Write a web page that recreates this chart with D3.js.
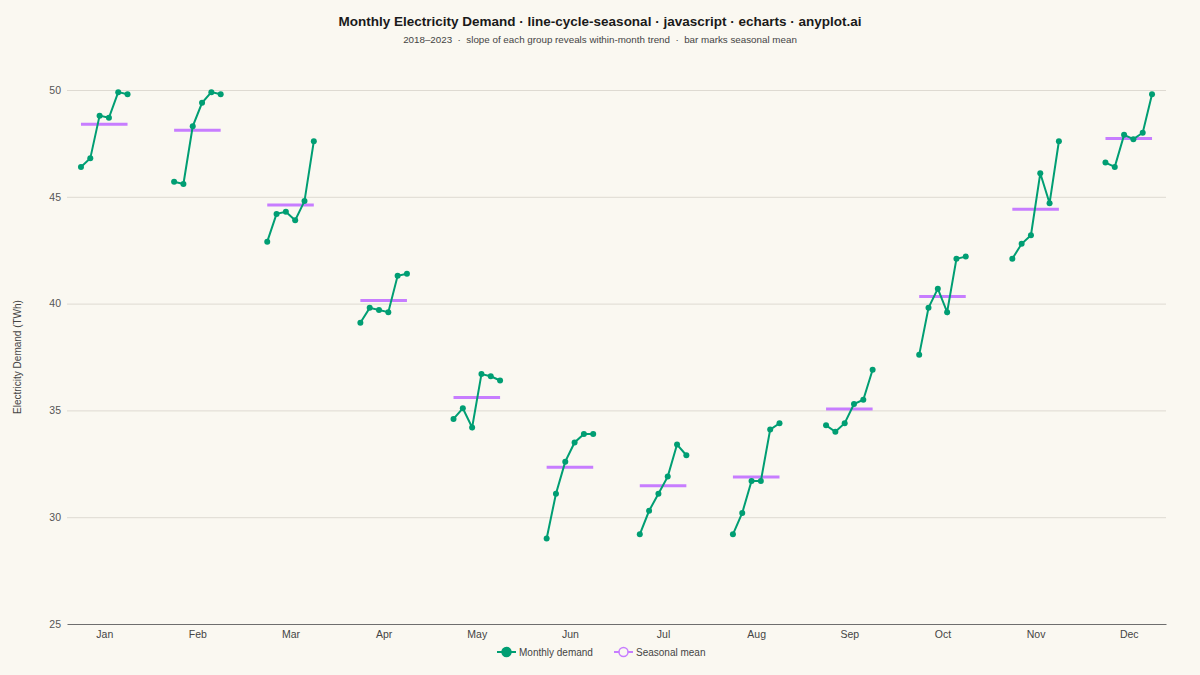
<!DOCTYPE html>
<html>
<head>
<meta charset="utf-8">
<script src="https://cdn.jsdelivr.net/npm/d3@7"></script>
<style>
  html, body { margin: 0; padding: 0; background: #FAF8F1; }
  svg { display: block; font-family: "Liberation Sans", Arial, sans-serif; }
</style>
</head>
<body>
<svg id="chart"></svg>
<script>
var width = 1200;
var height = 675;

var months = ['Jan', 'Feb', 'Mar', 'Apr', 'May', 'Jun', 'Jul', 'Aug', 'Sep', 'Oct', 'Nov', 'Dec'];
var years = [2018, 2019, 2020, 2021, 2022, 2023];
var yTicks = [25, 30, 35, 40, 45, 50];

// demand per month, one value per year (2018..2023), TWh
var janDemand = [46.4, 46.8, 48.8, 48.7, 49.9, 49.8];
var febDemand = [45.7, 45.6, 48.3, 49.4, 49.9, 49.8];
var marDemand = [42.9, 44.2, 44.3, 43.9, 44.8, 47.6];
var aprDemand = [39.1, 39.8, 39.7, 39.6, 41.3, 41.4];
var mayDemand = [34.6, 35.1, 34.2, 36.7, 36.6, 36.4];
var junDemand = [29.0, 31.1, 32.6, 33.5, 33.9, 33.9];
var julDemand = [29.2, 30.3, 31.1, 31.9, 33.4, 32.9];
var augDemand = [29.2, 30.2, 31.7, 31.7, 34.1, 34.4];
var sepDemand = [34.3, 34.0, 34.4, 35.3, 35.5, 36.9];
var octDemand = [37.6, 39.8, 40.7, 39.6, 42.1, 42.2];
var novDemand = [42.1, 42.8, 43.2, 46.1, 44.7, 47.6];
var decDemand = [46.6, 46.4, 47.9, 47.7, 48.0, 49.8];

var demand = [janDemand, febDemand, marDemand, aprDemand, mayDemand, junDemand,
  julDemand, augDemand, sepDemand, octDemand, novDemand, decDemand];

var green = '#009E73';
var purple = '#C77DFF';

var svg = d3.select('#chart')
  .attr('width', width)
  .attr('height', height);

svg.append('rect')
  .attr('width', width)
  .attr('height', height)
  .attr('fill', '#FAF8F1');

var plotLeft = 67, plotRight = 1166, plotTop = 90, plotBottom = 624;

// x: month index with a small spread for each year inside the group
var xScale = d3.scaleLinear()
  .domain([-0.4, 11.4])
  .range([plotLeft, plotRight]);

var yScale = d3.scaleLinear()
  .domain([25, 50])
  .range([plotBottom, plotTop]);

// year offset within a month group
var yearOffset = d3.scaleLinear()
  .domain([0, years.length - 1])
  .range([-0.25, 0.25]);

// title
svg.append('text')
  .attr('x', width / 2)
  .attr('y', 26)
  .attr('text-anchor', 'middle')
  .attr('font-size', 13.5)
  .attr('font-weight', 'bold')
  .attr('fill', '#1a1a1a')
  .text('Monthly Electricity Demand \u00b7 line-cycle-seasonal \u00b7 javascript \u00b7 echarts \u00b7 anyplot.ai');

svg.append('text')
  .attr('x', width / 2)
  .attr('y', 43)
  .attr('text-anchor', 'middle')
  .attr('font-size', 9.8)
  .attr('fill', '#444')
  .attr('xml:space', 'preserve')
  .text('2018\u20132023  \u00b7  slope of each group reveals within-month trend  \u00b7  bar marks seasonal mean');

// grid + y axis
var yAxis = svg.append('g')
  .attr('transform', 'translate(' + plotLeft + ',0)')
  .call(d3.axisLeft(yScale)
    .tickValues(yTicks)
    .tickSize(-(plotRight - plotLeft))
    .tickPadding(6));
yAxis.select('.domain').remove();
yAxis.selectAll('.tick line')
  .attr('stroke', '#DEDAD2')
  .attr('stroke-width', 1);
yAxis.selectAll('.tick text')
  .attr('font-size', 10.5)
  .attr('fill', '#555')
  .attr('font-family', '"Liberation Sans", Arial, sans-serif');
yAxis.selectAll('.tick').filter(function(d) { return d === 25; })
  .select('line').remove();

svg.append('text')
  .attr('transform', 'translate(21,' + ((plotTop + plotBottom) / 2) + ') rotate(-90)')
  .attr('text-anchor', 'middle')
  .attr('font-size', 10)
  .attr('fill', '#444')
  .text('Electricity Demand (TWh)');

// x axis
var xAxis = svg.append('g')
  .attr('transform', 'translate(0,' + plotBottom + ')')
  .call(d3.axisBottom(xScale)
    .tickValues(d3.range(months.length))
    .tickFormat(function(i) { return months[i]; })
    .tickSize(0)
    .tickPadding(7));
xAxis.select('.domain')
  .attr('stroke', '#6E6E6E')
  .attr('stroke-width', 1);
xAxis.selectAll('.tick text')
  .attr('font-size', 10.5)
  .attr('fill', '#444')
  .attr('font-family', '"Liberation Sans", Arial, sans-serif');

// series
var line = d3.line()
  .x(function(d) { return d.x; })
  .y(function(d) { return d.y; });

var groups = svg.append('g').attr('id', 'groups');

demand.forEach(function(values, m) {
  var pts = values.map(function(v, i) {
    return { x: xScale(m + yearOffset(i)), y: yScale(v) };
  });
  var mean = d3.mean(values);

  groups.append('line')
    .attr('x1', xScale(m - 0.25))
    .attr('x2', xScale(m + 0.25))
    .attr('y1', yScale(mean))
    .attr('y2', yScale(mean))
    .attr('stroke', purple)
    .attr('stroke-width', 3);

  groups.append('path')
    .datum(pts)
    .attr('d', line)
    .attr('fill', 'none')
    .attr('stroke', green)
    .attr('stroke-width', 2);

  groups.selectAll('circle.m' + m)
    .data(pts)
    .enter().append('circle')
      .attr('class', 'm' + m)
      .attr('cx', function(d) { return d.x; })
      .attr('cy', function(d) { return d.y; })
      .attr('r', 3)
      .attr('fill', green);
});

// legend
var legend = svg.append('g').attr('transform', 'translate(0,652)');
var legendItems = [
  { label: 'Monthly demand', color: green, filled: true, x: 497 },
  { label: 'Seasonal mean', color: purple, filled: false, x: 614 }
];
legendItems.forEach(function(d) {
  legend.append('line')
    .attr('x1', d.x).attr('x2', d.x + 19)
    .attr('y1', 0).attr('y2', 0)
    .attr('stroke', d.color)
    .attr('stroke-width', 2);
  legend.append('circle')
    .attr('cx', d.x + 9.5).attr('cy', 0)
    .attr('r', 4.5)
    .attr('fill', d.filled ? d.color : '#FAF8F1')
    .attr('stroke', d.color)
    .attr('stroke-width', 1.5);
  legend.append('text')
    .attr('x', d.x + 22)
    .attr('y', 3.5)
    .attr('font-size', 10)
    .attr('fill', '#444')
    .text(d.label);
});
</script>
</body>
</html>
